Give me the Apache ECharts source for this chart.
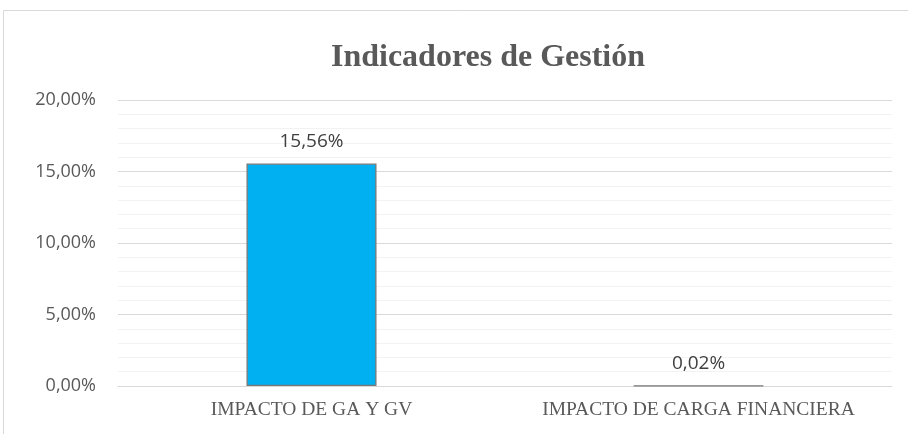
<!DOCTYPE html>
<html><head><meta charset="utf-8">
<script src="https://cdn.jsdelivr.net/npm/echarts@6/dist/echarts.min.js"></script>
<style>html,body{margin:0;padding:0;background:#fff}#c{width:908px;height:434px}</style>
</head><body><div id="c"></div>
<script>
const titleText = 'Indicadores de Gestión';
const categories = ['IMPACTO DE GA Y GV', 'IMPACTO DE CARGA FINANCIERA'];
const values = [0.1556, 0.0002];
const yTicks = [0, 0.05, 0.10, 0.15, 0.20];

const fmtPct = v => (v * 100).toFixed(2).replace('.', ',') + '%';

const chart = echarts.init(document.getElementById('c'));
chart.setOption({
  animation: false,
  backgroundColor: '#fff',
  graphic: [{
    type: 'rect', shape: { x: 3.5, y: 10.5, width: 920, height: 440 },
    style: { fill: 'none', stroke: '#d9d9d9', lineWidth: 1 }, silent: true
  }],
  title: {
    text: titleText, left: 483, top: 37, textAlign: 'center',
    textStyle: { fontFamily: 'Liberation Serif', fontWeight: 'bold', fontSize: 32, color: '#595959' }
  },
  grid: { left: 118, right: 16, top: 100, bottom: 48 },
  xAxis: {
    type: 'category', data: categories,
    axisLine: { lineStyle: { color: '#d9d9d9', width: 1 } },
    axisTick: { show: false },
    axisLabel: { interval: 0, hideOverlap: false, fontFamily: 'Liberation Serif', fontSize: 19.5, color: '#595959', margin: 14 }
  },
  yAxis: {
    type: 'value', min: yTicks[0], max: yTicks[yTicks.length - 1], interval: 0.05,
    axisLine: { show: false }, axisTick: { show: false },
    axisLabel: { formatter: fmtPct, fontFamily: 'Open Sans', fontSize: 18, color: '#595959', margin: 22 },
    splitLine: { lineStyle: { color: '#d9d9d9', width: 1 } },
    minorTick: { show: false, splitNumber: 5 },
    minorSplitLine: { show: true, lineStyle: { color: '#f2f2f2', width: 1 } }
  },
  series: [{
    type: 'bar', data: values, barWidth: '33.6%',
    itemStyle: { color: '#00b0f0', borderColor: '#787878', borderWidth: 1.3 },
    label: {
      show: true, position: 'top', distance: 12, formatter: p => fmtPct(p.value),
      fontFamily: 'Open Sans', fontSize: 19, color: '#404040'
    }
  }]
});
</script></body></html>
